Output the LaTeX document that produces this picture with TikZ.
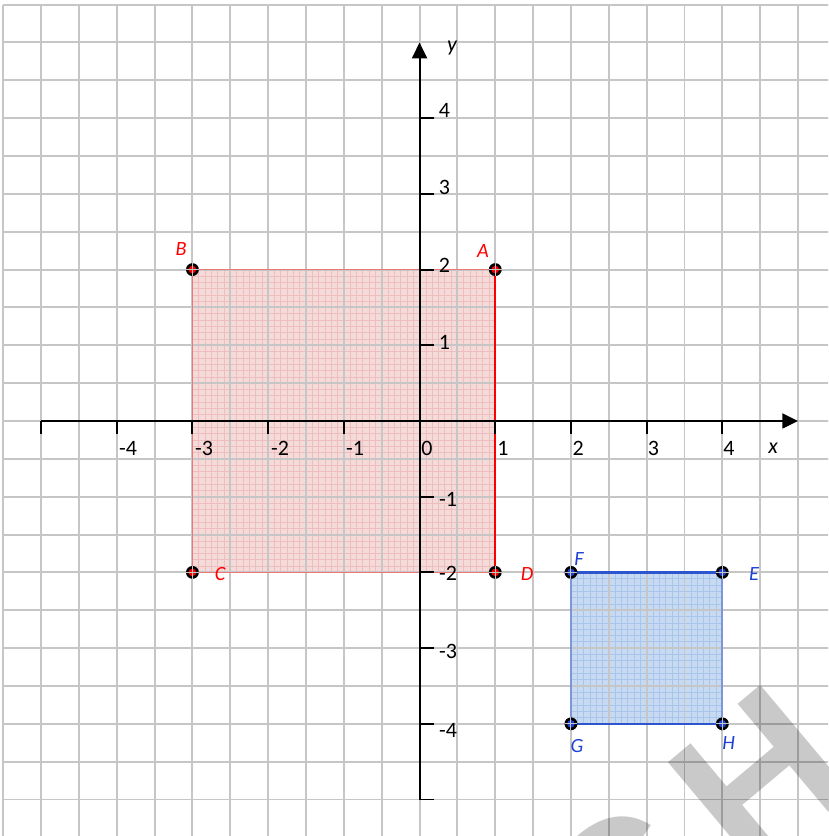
\documentclass[tikz,border=0pt]{standalone}
\usepackage{fontspec}
\setmainfont{Carlito}
\newfontfamily\wmfont{Liberation Sans}
\usetikzlibrary{arrows.meta,calc}
\definecolor{gridgray}{RGB}{198,198,198}
\definecolor{pinkfill}{RGB}{245,218,218}
\definecolor{pinkfine}{RGB}{238,190,190}
\definecolor{pinkedge}{RGB}{236,120,120}
\definecolor{bluefill}{RGB}{200,218,242}
\definecolor{bluefine}{RGB}{168,198,236}
\definecolor{blueedge}{RGB}{45,85,205}
\definecolor{blueedgelight}{RGB}{125,150,215}
\definecolor{ptred}{RGB}{255,0,0}
\definecolor{ptblue}{RGB}{30,65,210}
\begin{document}
\begin{tikzpicture}[x=1.514cm,y=1.514cm,
  gridline/.style={gridgray,line width=1.1pt},
  fineline/.style={line width=0.35pt},
  axisline/.style={black,line width=1.15pt},
  tickline/.style={black,line width=1.1pt},
  ticklabel/.style={font=\fontsize{12.5}{12.5}\selectfont,inner sep=0pt},
  axislabel/.style={font=\fontsize{12.5}{12.5}\selectfont\itshape,inner sep=0pt},
  ptlabel/.style={font=\fontsize{11.5}{11.5}\selectfont\itshape,inner sep=0pt},
  wmark/.style={rotate=40,inner sep=0pt,font=\wmfont\bfseries\fontsize{116.6}{116.6}\selectfont,text=black,text opacity=0.21}]
\clip (-5.542,-5.482) rectangle (5.396,5.561);
% square fills
\fill[pinkfill] (-3,-2) rectangle (1,2);
\foreach \i in {1,...,47} {
  \draw[fineline,pinkfine] ({-3+\i/12},-2) -- ({-3+\i/12},2);
  \draw[fineline,pinkfine] (-3,{-2+\i/12}) -- (1,{-2+\i/12});
}
\fill[bluefill] (2,-4) rectangle (4,-2);
\foreach \i in {1,...,23} {
  \draw[fineline,bluefine] ({2+\i/12},-4) -- ({2+\i/12},-2);
  \draw[fineline,bluefine] (2,{-4+\i/12}) -- (4,{-4+\i/12});
}
% grid
\foreach \k in {0,...,21} {
  \draw[gridline] ({-5.5+\k/2},5.5) -- ({-5.5+\k/2},-5.6);
}
\foreach \k in {0,...,22} {
  \draw[gridline] (-5.5,{5.5-\k/2}) -- (5.5,{5.5-\k/2});
}
% watermark
\node[wmark,anchor=south east] (wm) at (5.873,-4.816) {C\kern0.16em H};
% square corners
\coordinate (A) at (1,2);
\coordinate (B) at (-3,2);
\coordinate (C) at (-3,-2);
\coordinate (D) at (1,-2);
\coordinate (E) at (4,-2);
\coordinate (F) at (2,-2);
\coordinate (G) at (2,-4);
\coordinate (H) at (4,-4);
% outlines
\draw[pinkedge,line width=1pt] (D) -- (C) -- (B) -- (A);
\draw[ptred,line width=1.3pt] (A) -- (D);
\draw[blueedge,line width=1.3pt] (E) -- (F);
\draw[blueedgelight,line width=1pt] (F) -- (G);
\draw[blueedge,line width=1.3pt] (G) -- (H);
\draw[blueedgelight,line width=1pt] (H) -- (E);
% axes
\coordinate (xl) at (-5,0);
\coordinate (xr) at (5,0);
\coordinate (yb) at (0,-5);
\coordinate (yt) at (0,5);
\draw[axisline,-{Triangle[length=9pt,width=8.5pt]}] (xl) -- (xr);
\draw[axisline,-{Triangle[length=9pt,width=8.5pt]}] (yb) -- (yt);
\foreach \t in {-5,-4,-3,-2,-1,1,2,3,4} {
  \draw[tickline] (\t,0) -- (\t,-0.17);
}
\foreach \t in {-5,-4,-3,-2,-1,0,1,2,3,4} {
  \draw[tickline] (0,\t) -- (0.185,\t);
}
% x tick labels
\node[ticklabel] (xm4) at (-3.851,-0.357) {-4};
\node[ticklabel] (xm3) at (-2.847,-0.357) {-3};
\node[ticklabel] (xm2) at (-1.843,-0.357) {-2};
\node[ticklabel] (xm1) at (-0.852,-0.357) {-1};
\node[ticklabel] (x0) at (0.099,-0.357) {0};
\node[ticklabel] (x1) at (1.103,-0.357) {1};
\node[ticklabel] (x2) at (2.094,-0.357) {2};
\node[ticklabel] (x3) at (3.091,-0.357) {3};
\node[ticklabel] (x4) at (4.088,-0.357) {4};
\node[axislabel] (xlab) at (4.670,-0.357) {x};
% y tick labels
\node[ticklabel] (y4) at (0.330,4.108) {4};
\node[ticklabel] (y3) at (0.330,3.085) {3};
\node[ticklabel] (y2) at (0.330,2.061) {2};
\node[ticklabel] (y1) at (0.330,1.044) {1};
\node[ticklabel] (ym1) at (0.376,-1.037) {-1};
\node[ticklabel] (ym2) at (0.376,-2.008) {-2};
\node[ticklabel] (ym3) at (0.376,-3.038) {-3};
\node[ticklabel] (ym4) at (0.376,-4.088) {-4};
\node[axislabel] (ylab) at (0.429,4.927) {y};
% point labels
\node[ptlabel,text=ptred] (lA) at (0.839,2.246) {A};
\node[ptlabel,text=ptred] (lB) at (-3.151,2.266) {B};
\node[ptlabel,text=ptred] (lC) at (-2.635,-2.021) {C};
\node[ptlabel,text=ptred] (lD) at (1.420,-2.021) {D};
\node[ptlabel,text=ptblue] (lE) at (4.419,-2.021) {E};
\node[ptlabel,text=ptblue] (lF) at (2.107,-1.823) {F};
\node[ptlabel,text=ptblue] (lG) at (2.081,-4.293) {G};
\node[ptlabel,text=ptblue] (lH) at (4.082,-4.254) {H};
% dots
\foreach \p/\c in {A/ptred,B/ptred,C/ptred,D/ptred,E/ptblue,F/ptblue,G/ptblue,H/ptblue} {
  \fill[black] (\p) circle (0.085);
  \fill[\c] (\p) circle (0.05);
  \draw[gridgray,line width=0.6pt] ($(\p)+(-0.085,0)$) -- ($(\p)+(0.085,0)$);
  \draw[gridgray,line width=0.6pt] ($(\p)+(0,-0.085)$) -- ($(\p)+(0,0.085)$);
}
\end{tikzpicture}
\end{document}
